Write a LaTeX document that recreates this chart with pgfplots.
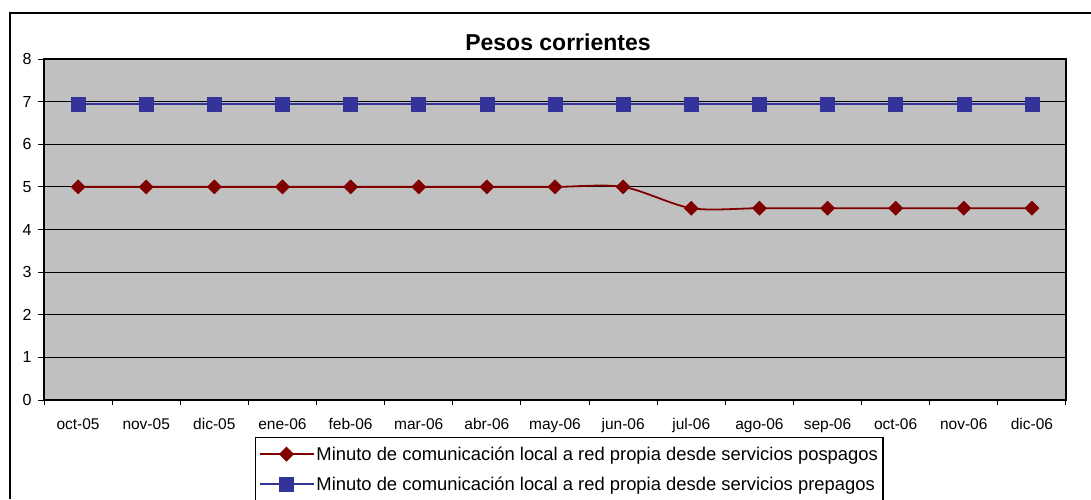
\documentclass[border=0pt]{standalone}
\usepackage{fontspec}
\setmainfont{Liberation Sans}
\usepackage{pgfplots}
\pgfplotsset{compat=1.18}
\definecolor{plotbg}{HTML}{C0C0C0}
\definecolor{redser}{HTML}{800000}
\definecolor{blueser}{HTML}{333399}
\begin{document}
\begin{tikzpicture}
\useasboundingbox (-44pt,-99pt) rectangle (1047pt,400pt);
\begin{axis}[
  at={(0pt,0pt)}, anchor=south west,
  scale only axis, width=1022pt, height=341pt,
  xmin=-0.5, xmax=14.5, ymin=0, ymax=8,
  axis background/.style={fill=plotbg},
  axis line style={black, line width=1.2pt},
  xtick={0,...,14},
  xticklabels={oct-05,nov-05,dic-05,ene-06,feb-06,mar-06,abr-06,may-06,jun-06,jul-06,ago-06,sep-06,oct-06,nov-06,dic-06},
  major x tick style={draw=none},
  minor xtick={-0.5,0.5,...,14.5},
  minor tick length=5pt,
  ytick={0,...,8},
  major tick length=6pt,
  tick align=outside,
  tick pos=left,
  tick style={black, line width=1pt},
  ymajorgrids,
  major grid style={black, line width=0.9pt},
  /pgf/number format/assume math mode=true,
  xticklabel style={font=\fontsize{15.5}{18}\selectfont, yshift=-9pt},
  yticklabel style={font=\fontsize{16}{19}\selectfont, xshift=-3pt},
  legend style={at={(0.2065,-0.1085)}, anchor=north west, draw=black, line width=1.2pt,
    font=\fontsize{18.4}{21}\selectfont, row sep=11pt, inner xsep=3pt, inner ysep=7pt,
    legend cell align=left},
  legend image code/.code={\draw[mark repeat=2,mark phase=2,#1] plot coordinates {(0pt,0pt) (27pt,0pt) (54pt,0pt)};},
]
\addplot[color=redser, line width=1.8pt, smooth, tension=0.5, mark=square*, mark size=5pt, mark options={rotate=45, fill=redser, draw=redser, line width=0.5pt}]
coordinates {(0,5) (1,5) (2,5) (3,5) (4,5) (5,5) (6,5) (7,5) (8,5) (9,4.5) (10,4.5) (11,4.5) (12,4.5) (13,4.5) (14,4.5)};
\addlegendentry{Minuto de comunicación local a red propia desde servicios pospagos}
\addplot[color=blueser, line width=1.8pt, mark=square*, mark size=7pt, mark options={fill=blueser, draw=blueser, line width=0.5pt}]
coordinates {(0,6.95) (1,6.95) (2,6.95) (3,6.95) (4,6.95) (5,6.95) (6,6.95) (7,6.95) (8,6.95) (9,6.95) (10,6.95) (11,6.95) (12,6.95) (13,6.95) (14,6.95)};
\addlegendentry{Minuto de comunicación local a red propia desde servicios prepagos}
\end{axis}
\node[anchor=base] at (558pt-44pt,349pt) {\fontsize{23}{27}\selectfont\bfseries Pesos corrientes};
\draw[black, line width=2pt] (-34pt,-99pt) -- (-34pt,386.7pt) -- (1047pt,386.7pt);
\end{tikzpicture}
\end{document}
